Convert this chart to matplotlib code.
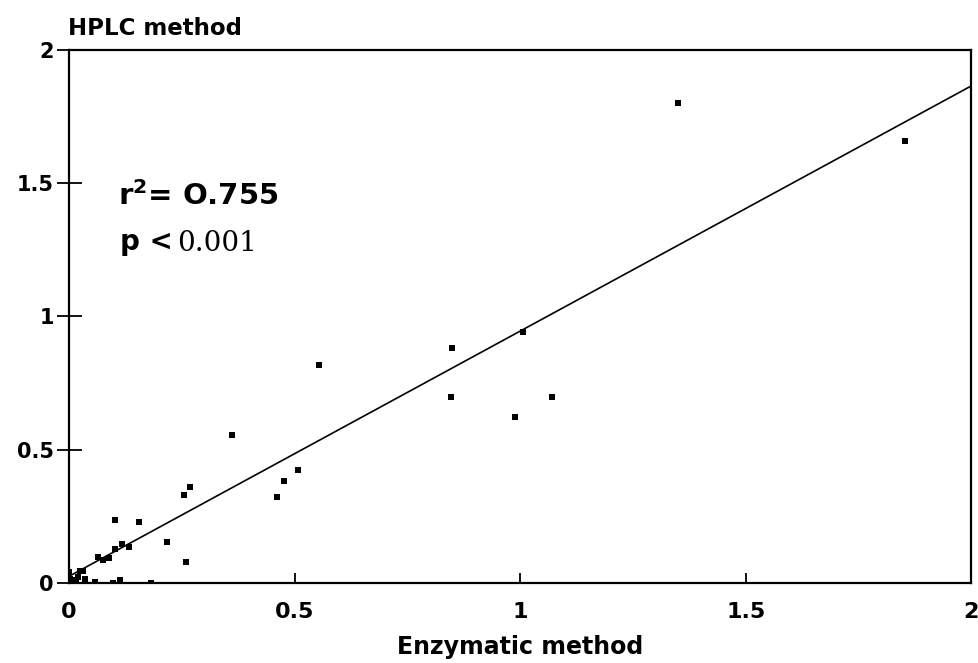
import matplotlib
matplotlib.use("Agg")
from matplotlib import pyplot as plt

# values
enzymatic = [0.000, 0.002, 0.005, 0.010, 0.015, 0.021, 0.024, 0.032, 0.035, 0.058,
             0.065, 0.075, 0.089, 0.098, 0.102, 0.103, 0.112, 0.117, 0.134, 0.156,
             0.181, 0.217, 0.256, 0.259, 0.269, 0.362, 0.462, 0.477, 0.508, 0.554,
             0.846, 0.849, 0.989, 1.006, 1.070, 1.350, 1.854]
hplc = [0.040, 0.014, 0.006, 0.011, 0.003, 0.021, 0.046, 0.046, 0.016, 0.004,
        0.099, 0.086, 0.093, 0.001, 0.128, 0.236, 0.011, 0.145, 0.135, 0.230,
        0.001, 0.154, 0.330, 0.078, 0.359, 0.555, 0.322, 0.383, 0.424, 0.818,
        0.699, 0.881, 0.622, 0.943, 0.699, 1.800, 1.660]

# regression line as printed
fit_intercept = 0.025
fit_slope = 0.92
fit_x = [0, 2]

ticks = [0, 0.5, 1, 1.5, 2]
tick_labels = ["0", "0.5", "1", "1.5", "2"]

plt.rcParams["font.family"] = "DejaVu Sans"

fig = plt.figure(figsize=(9.79, 6.63), dpi=100)
ax = fig.add_axes([0.0705, 0.1207, 0.9215, 0.8039])

ax.plot(enzymatic, hplc, "s", color="black", markersize=4, markeredgewidth=0)
ax.plot(fit_x, [fit_intercept + fit_slope * v for v in fit_x], color="black", linewidth=1.2)

ax.set_xlim(0, 2)
ax.set_ylim(0, 2)
for s in ax.spines.values():
    s.set_linewidth(1.6)

ax.set_xticks(ticks)
ax.set_xticklabels(tick_labels, fontsize=16, fontweight="bold")
ax.set_yticks(ticks)
ax.set_yticklabels(tick_labels, fontsize=15, fontweight="bold")
ax.tick_params(axis="x", direction="in", length=7, width=1.3, pad=14)
ax.tick_params(axis="y", direction="inout", length=18, width=1.3, pad=2)

ax.set_xlabel("Enzymatic method", fontsize=17, fontweight="bold", labelpad=9)
fig.text(0.069, 0.947, "HPLC method", fontsize=16.5, fontweight="bold",
         ha="left", va="baseline")

ax.text(0.109, 1.418, r"$\mathbf{r^2}$= O.755", fontsize=21, fontweight="bold",
        ha="left", va="baseline")
ax.text(0.113, 1.25, "p <", fontsize=20, fontweight="bold", ha="left", va="baseline")
ax.text(0.239, 1.245, "0.001", fontsize=20, family="DejaVu Serif",
        ha="left", va="baseline")

fig.savefig("out.png", dpi=100, facecolor="white")
